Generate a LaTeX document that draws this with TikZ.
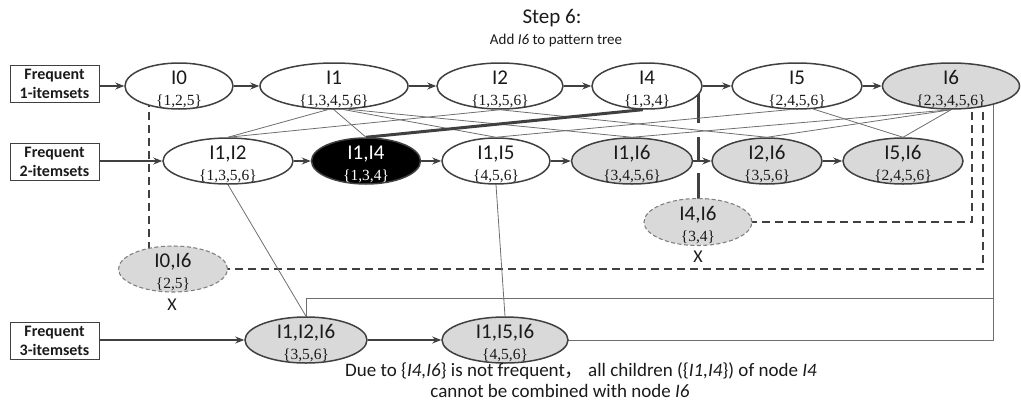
\documentclass[tikz,border=0pt]{standalone}
\usepackage{fontspec}
\setmainfont{Carlito}
\newfontfamily\setfont{Liberation Serif}
\newfontfamily\cjkfont{Noto Sans CJK SC}
\usetikzlibrary{shapes.geometric,arrows.meta,backgrounds}
\definecolor{rim}{HTML}{404040}
\definecolor{wire}{HTML}{6E6E6E}
\definecolor{shade}{HTML}{D9D9D9}
\definecolor{ink}{HTML}{1A1A1A}
% itemset label over its transaction set
\newcommand\itemtext[2]{\rule{0pt}{20.5pt}{\fontsize{21}{21}\selectfont #1}\\{\setfont\{#2\}}\rule[-3.5pt]{0pt}{3.5pt}}
\begin{document}
\begin{tikzpicture}[x=1pt,y=-1pt,
  itm/.style={ellipse,draw=rim,line width=1.5pt,fill=white,text=ink,
    inner xsep=0pt,inner ysep=-12pt,minimum height=46pt,align=center,
    font=\fontsize{15.5}{21}\selectfont},
  newitm/.style={itm,fill=shade},
  hit/.style={itm,fill=black,text=white},
  pruned/.style={itm,fill=shade,draw=gray,line width=1.1pt,dash pattern=on 4pt off 2.5pt},
  level/.style={draw=rim,line width=0.9pt,minimum width=89pt,minimum height=37pt,
    inner sep=0pt,align=center,text=ink,font=\fontsize{16}{19}\selectfont\bfseries},
  next/.style={draw=rim,line width=1.1pt,-{Stealth[length=9pt,width=7pt]}},
  link/.style={draw=wire,line width=0.8pt},
  heavy/.style={draw=rim,line width=3pt},
  cut/.style={draw=rim,line width=1.2pt,dash pattern=on 8pt off 5pt},
  note/.style={text=ink,inner sep=0pt},
]
\useasboundingbox (0,0) rectangle (1021,405);

% headings
\node[note,font=\fontsize{21}{24}\selectfont] (ttl) at (552,18) {Step 6:};
\node[note,font=\fontsize{15}{18}\selectfont] (sub) at (556,40) {Add \textit{I6} to pattern tree};

% level boxes
\node[level] (b1) at (54.5,84) {Frequent\\1-itemsets};
\node[level] (b2) at (54.5,162) {Frequent\\2-itemsets};
\node[level] (b3) at (54.5,341) {Frequent\\3-itemsets};

% 1-itemsets
\node[itm,minimum width=108pt] (I0) at (179,86) {\itemtext{I0}{1,2,5}};
\node[itm,minimum width=148pt] (I1) at (334,86) {\itemtext{I1}{1,3,4,5,6}};
\node[itm,minimum width=126pt] (I2) at (500,86) {\itemtext{I2}{1,3,5,6}};
\node[itm,minimum width=110pt] (I4) at (647,86) {\itemtext{I4}{1,3,4}};
\node[itm,minimum width=130pt] (I5) at (797,86) {\itemtext{I5}{2,4,5,6}};
\node[newitm,minimum width=137pt] (I6) at (951,86) {\itemtext{I6}{2,3,4,5,6}};

% 2-itemsets
\node[itm,minimum width=130pt] (I12) at (228,161) {\itemtext{I1,I2}{1,3,5,6}};
\node[hit,minimum width=109pt] (I14) at (366,161) {\itemtext{I1,I4}{1,3,4}};
\node[itm,minimum width=108pt] (I15) at (496,161) {\itemtext{I1,I5}{4,5,6}};
\node[newitm,minimum width=121pt] (I16) at (632,161) {\itemtext{I1,I6}{3,4,5,6}};
\node[newitm,minimum width=110pt] (I26) at (767,161) {\itemtext{I2,I6}{3,5,6}};
\node[newitm,minimum width=120pt] (I56) at (903,161) {\itemtext{I5,I6}{2,4,5,6}};

% rejected candidates
\node[pruned,minimum width=108pt,minimum height=47pt] (I46) at (698,222) {\itemtext{I4,I6}{3,4}};
\node[pruned,minimum width=109pt] (I06) at (173,269) {\itemtext{I0,I6}{2,5}};
\node[note,font=\fontsize{18}{20}\selectfont] (x46) at (698,257) {X};
\node[note,font=\fontsize{18}{20}\selectfont] (x06) at (172,305) {X};

% 3-itemsets
\node[newitm,minimum width=122pt] (I126) at (306,340) {\itemtext{I1,I2,I6}{3,5,6}};
\node[newitm,minimum width=126pt] (I156) at (505,340) {\itemtext{I1,I5,I6}{4,5,6}};

% explanation
\node[note,font=\fontsize{19}{22}\selectfont] (why1) at (581,371)
  {Due to \{\textit{I4,I6}\} is not frequent{\cjkfont ，} all children (\{\textit{I1,I4}\}) of node \textit{I4}};
\node[note,font=\fontsize{19}{22}\selectfont] (why2) at (560,391)
  {cannot be combined with node \textit{I6}};

\coordinate (joint) at (993,298);

% links that run behind the filled nodes
\begin{scope}[on background layer]
  \draw[heavy] (I46.center |- I4.center) -- (I46.center);
  \fill[white] (694,123) rectangle (703,137);
  \fill[white] (694,160) rectangle (703,173);
  \draw[cut] ([xshift=-30pt]I0.center) -- ([xshift=-30pt]I0.center |- I06.center);
  \draw[cut] ([xshift=21pt]I6.center) |- (I46.center);
  \draw[cut] ([xshift=32pt]I6.center) |- (I06.center);
  \draw[link] ([xshift=42pt]I6.center) |- (I156.center);
  \draw[link] (I126.center) |- (joint);
\end{scope}

% parent-child links
\draw[link] (I1.-105) -- (I12.north);
\draw[link] (I2.south) -- (I12.north);
\draw[link] (I1.south) -- (I14.north);
\draw[link] (I1.-68) -- (I15.north);
\draw[link] (I5.-107) -- (I15.north);
\draw[link] (I1.-58) -- (I16.north);
\draw[link] (I6.south) -- (I16.north);
\draw[link] (I2.south) -- (I26.north);
\draw[link] (I6.south) -- (I26.north);
\draw[link] (I5.-55) -- (I56.north);
\draw[link] (I6.south) -- (I56.north);
\draw[link] (I12.south) -- (I126.north);
\draw[link] (I15.south) -- (I156.north);
\draw[heavy] (I4.-100) -- (I14.north);

% sibling order within each level
\draw[next] (b1.east |- I0.west) -- (I0.west);
\draw[next] (I0.east) -- (I1.west);
\draw[next] (I1.east) -- (I2.west);
\draw[next] (I2.east) -- (I4.west);
\draw[next] (I4.east) -- (I5.west);
\draw[next] (I5.east) -- (I6.west);
\draw[next] (b2.east |- I12.west) -- (I12.west);
\draw[next] (I12.east) -- (I14.west);
\draw[next] (I14.east) -- (I15.west);
\draw[next] (I15.east) -- (I16.west);
\draw[next] (I16.east) -- (I26.west);
\draw[next] (I26.east) -- (I56.west);
\draw[next] (b3.east |- I126.west) -- (I126.west);
\draw[next] (I126.east) -- (I156.west);
\end{tikzpicture}
\end{document}
